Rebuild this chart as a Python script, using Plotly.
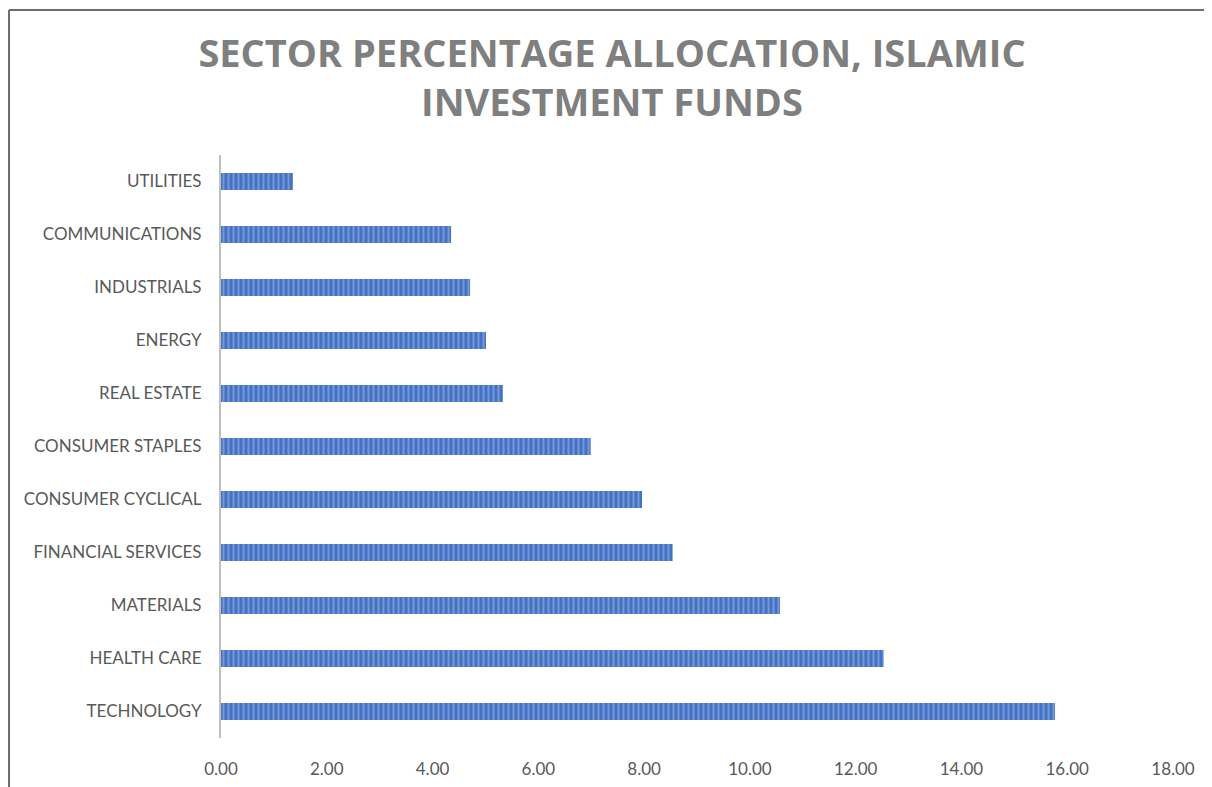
import plotly.graph_objects as go

categories = ["TECHNOLOGY", "HEALTH CARE", "MATERIALS", "FINANCIAL SERVICES",
              "CONSUMER CYCLICAL", "CONSUMER STAPLES", "REAL ESTATE", "ENERGY",
              "INDUSTRIALS", "COMMUNICATIONS", "UTILITIES"]
values = [15.77, 12.53, 10.57, 8.54, 7.96, 6.99, 5.33, 5.01, 4.71, 4.35, 1.36]
x_ticks = [0, 2, 4, 6, 8, 10, 12, 14, 16, 18]
x_tick_labels = ["%.2f" % v for v in x_ticks]
title_text = "SECTOR PERCENTAGE ALLOCATION, ISLAMIC<br>INVESTMENT FUNDS"

W, H = 1212, 787
L, R, T, B = 213, 47, 147, 57
pw, ph = W - L - R, H - T - B

fig = go.Figure(go.Bar(
    x=values, y=categories, orientation="h",
    marker=dict(color="#4472C4", line=dict(width=0),
                pattern=dict(shape="|", size=5, solidity=0.4,
                             fgcolor="#A9C1EA", bgcolor="#4472C4")),
))

bx = (1 - L) / pw
by = (H - B - 2) / ph
fig.add_shape(type="line", xref="paper", yref="paper", x0=bx, x1=bx, y0=by, y1=-B / ph,
              line=dict(color="#6e6e6e", width=2))
fig.add_shape(type="line", xref="paper", yref="paper", x0=bx, x1=(W + 20 - L) / pw, y0=by, y1=by,
              line=dict(color="#6e6e6e", width=2))

fig.update_layout(
    width=W, height=H,
    margin=dict(l=L, r=R, t=T, b=B),
    paper_bgcolor="white", plot_bgcolor="white",
    showlegend=False,
    bargap=0.68,
    title=dict(text=title_text, x=604 / W, xanchor="center", xref="container",
               y=1 - 59 / H, yanchor="top", yref="container",
               font=dict(family="Open Sans", size=38, color="#7F7F7F", weight="bold")),
    font=dict(family="Lato", size=17, color="#595959"),
    xaxis=dict(range=[0, 18], tickvals=x_ticks, ticktext=x_tick_labels,
               showgrid=False, zeroline=False, showline=False,
               ticks="outside", ticklen=16, tickcolor="rgba(0,0,0,0)",
               tickfont=dict(family="Lato", size=17, color="#595959")),
    yaxis=dict(showgrid=False, zeroline=False, showline=True, linecolor="#BFBFBF",
               linewidth=2, ticks="outside", ticklen=14, tickcolor="rgba(0,0,0,0)",
               tickfont=dict(family="Lato", size=17, color="#595959")),
)

fig.write_html("out.html")
